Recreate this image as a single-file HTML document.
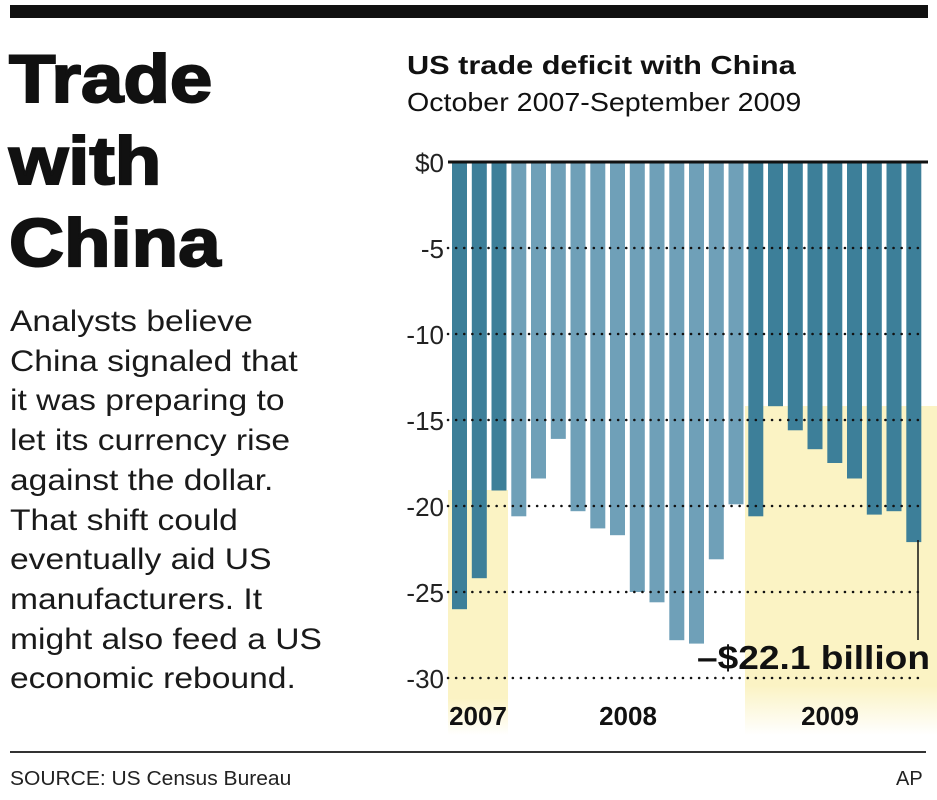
<!DOCTYPE html>
<html><head><meta charset="utf-8"><style>
body{margin:0;background:#fff;width:937px;height:800px;overflow:hidden;font-family:"Liberation Sans",sans-serif}
.t{position:absolute;color:#111;transform-origin:0 0;white-space:nowrap}
</style></head><body>
<div style="position:absolute;left:10px;top:5px;width:918px;height:13px;background:#111"></div>
<div class="t" style="left:9px;top:38px;font-size:68px;font-weight:bold;line-height:82px;transform:scaleX(1.12);-webkit-text-stroke:2px #111">Trade<br>with<br>China</div>
<div class="t" style="left:10px;top:302px;font-size:30px;line-height:39.7px;color:#1a1a1a;transform:scaleX(1.12)">Analysts believe<br>China signaled that<br>it was preparing to<br>let its currency rise<br>against the dollar.<br>That shift could<br>eventually aid US<br>manufacturers. It<br>might also feed a US<br>economic rebound.</div>
<div class="t" style="left:407px;top:50px;font-size:26px;font-weight:bold;transform:scaleX(1.18)">US trade deficit with China</div>
<div class="t" style="left:407px;top:87px;font-size:26px;transform:scaleX(1.1)">October 2007-September 2009</div>
<svg style="position:absolute;left:0;top:0" width="937" height="800">
<defs><linearGradient id="y" x1="0" y1="0" x2="0" y2="1"><stop offset="0.85" stop-color="#fbf3c4"/><stop offset="1" stop-color="#fbf3c4" stop-opacity="0"/></linearGradient></defs>
<rect x="448" y="490" width="60" height="245" fill="url(#y)"/>
<rect x="745" y="406" width="192" height="329" fill="url(#y)"/>
<g id="bars"></g>
<g stroke="#111" stroke-width="2.5" stroke-dasharray="0.1 8" stroke-linecap="round">
<line x1="448" x2="925" y1="248" y2="248"/><line x1="448" x2="925" y1="334" y2="334"/><line x1="448" x2="925" y1="420" y2="420"/><line x1="448" x2="925" y1="506" y2="506"/><line x1="448" x2="925" y1="592" y2="592"/><line x1="448" x2="925" y1="678" y2="678"/>
</g>
<line x1="448" x2="928" y1="162" y2="162" stroke="#111" stroke-width="3"/>
<g font-size="26" text-anchor="end" fill="#222" font-family="Liberation Sans,sans-serif">
<text x="444" y="172">$0</text><text x="444" y="258">-5</text><text x="444" y="344">-10</text><text x="444" y="430">-15</text><text x="444" y="516">-20</text><text x="444" y="602">-25</text><text x="444" y="688">-30</text>
</g>
<g font-size="26" font-weight="bold" text-anchor="middle" fill="#111" font-family="Liberation Sans,sans-serif">
<text x="478" y="725">2007</text><text x="628" y="725">2008</text><text x="830" y="725">2009</text>
</g>
<line x1="918" x2="918" y1="540" y2="640" stroke="#111" stroke-width="1.5"/>
<text x="930" y="669" text-anchor="end" font-size="33" font-weight="bold" fill="#111" font-family="Liberation Sans,sans-serif" textLength="233" lengthAdjust="spacingAndGlyphs">–$22.1 billion</text>
<line x1="10" x2="926" y1="752" y2="752" stroke="#333" stroke-width="2"/>
</svg>
<div class="t" style="left:10px;top:768px;font-size:20px;color:#222;transform:scaleX(1.05)">SOURCE: US Census Bureau</div>
<div class="t" style="left:896px;top:768px;font-size:20px;color:#222">AP</div>
<script>
var v=[26,24.2,19.1,20.6,18.4,16.1,20.3,21.3,21.7,25,25.6,27.8,28,23.1,19.9,20.6,14.2,15.6,16.7,17.5,18.4,20.5,20.3,22.1];
var g=document.getElementById('bars'),s='';
v.forEach(function(d,i){var x=452+i*19.75;var c=(i<3||i>14)?'#3d7f99':'#6fa0b8';
s+='<rect x="'+x.toFixed(1)+'" y="162" width="15" height="'+(d*17.2).toFixed(1)+'" fill="'+c+'"/>';});
g.innerHTML=s;
</script>
</body></html>
